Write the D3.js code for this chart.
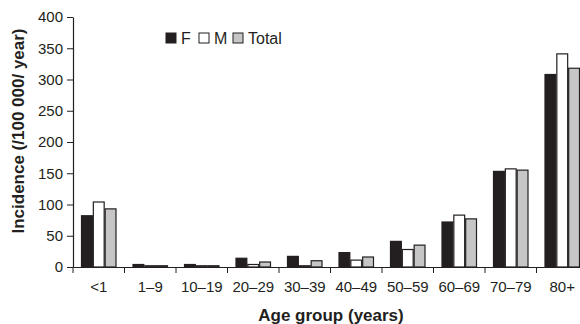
<!DOCTYPE html>
<html>
<head>
<meta charset="utf-8">
<script src="https://cdn.jsdelivr.net/npm/d3@7"></script>
<style>
  body { margin: 0; background: #fff; }
  svg { display: block; font-family: "Liberation Sans", Arial, sans-serif; }
</style>
</head>
<body>
<script>
const ageGroups = ["<1", "1\u20139", "10\u201319", "20\u201329", "30\u201339", "40\u201349", "50\u201359", "60\u201369", "70\u201379", "80+"];
const female = [82, 4, 4, 14, 17, 23, 41, 72, 153, 308];
const male   = [104, 2, 2, 4, 2, 11, 28, 83, 157, 341];
const total  = [93, 2, 2, 8, 10, 16, 35, 77, 155, 318];
const seriesNames = ["F", "M", "Total"];
const yTicks = [0, 50, 100, 150, 200, 250, 300, 350, 400];

const width = 580, height = 324;
const ink = "#231f20";
const fills = { F: ink, M: "#ffffff", Total: "#c6c6c6" };

const rows = ageGroups.map((g, i) => ({ group: g, F: female[i], M: male[i], Total: total[i] }));

const svg = d3.select("body").append("svg")
    .attr("width", width)
    .attr("height", height);

const x = d3.scaleBand()
    .domain(ageGroups)
    .range([73, 588]);

const xInner = d3.scaleBand()
    .domain(seriesNames)
    .range([8, x.bandwidth() - 8]);

const y = d3.scaleLinear()
    .domain([0, 400])
    .range([267, 17]);

// bars
const group = svg.append("g")
  .selectAll("g")
  .data(rows)
  .join("g")
    .attr("transform", d => `translate(${x(d.group)},0)`);

group.selectAll("rect")
  .data(d => seriesNames.map(k => ({ key: k, value: d[k] })))
  .join("rect")
    .attr("x", d => xInner(d.key) + 0.5)
    .attr("y", d => y(d.value))
    .attr("width", xInner.bandwidth() - 1)
    .attr("height", d => y(0) - y(d.value))
    .attr("fill", d => fills[d.key])
    .attr("stroke", ink)
    .attr("stroke-width", 1.2);

// y axis
const yAxis = svg.append("g")
    .attr("transform", "translate(73,0)")
    .call(d3.axisLeft(y).tickValues(yTicks).tickSize(6).tickPadding(4).tickSizeOuter(0));

// x axis
const xAxis = svg.append("g")
    .attr("transform", `translate(0,${y(0)})`)
    .call(d3.axisBottom(x).tickSize(0).tickPadding(14));

xAxis.selectAll(".tick").append("line")
    .attr("x1", -x.bandwidth() / 2)
    .attr("x2", -x.bandwidth() / 2)
    .attr("y2", 6)
    .attr("stroke", ink);

[yAxis, xAxis].forEach(a => {
  a.select(".domain").attr("stroke", ink).attr("stroke-width", 1.2);
  a.selectAll(".tick line").attr("stroke", ink);
  a.selectAll(".tick text")
      .attr("fill", ink)
      .style("font-size", "15px")
      .style("font-family", "'Liberation Sans', Arial, sans-serif");
});

// axis titles
svg.append("text")
    .attr("transform", "translate(24,131) rotate(-90)")
    .attr("text-anchor", "middle")
    .attr("fill", ink)
    .style("font-size", "17px")
    .style("font-weight", "bold")
    .text("Incidence (/100 000/ year)");

svg.append("text")
    .attr("x", 331)
    .attr("y", 321)
    .attr("text-anchor", "middle")
    .attr("fill", ink)
    .style("font-size", "17px")
    .style("font-weight", "bold")
    .text("Age group (years)");

// legend
const legendX = [166, 199, 233];
const legend = svg.append("g")
  .selectAll("g")
  .data(seriesNames)
  .join("g")
    .attr("transform", (d, i) => `translate(${legendX[i]},33)`);

legend.append("rect")
    .attr("width", 10)
    .attr("height", 10)
    .attr("fill", d => fills[d])
    .attr("stroke", ink)
    .attr("stroke-width", 1);

legend.append("text")
    .attr("x", 15)
    .attr("y", 10.5)
    .attr("fill", ink)
    .style("font-size", "16px")
    .text(d => d);
</script>
</body>
</html>
